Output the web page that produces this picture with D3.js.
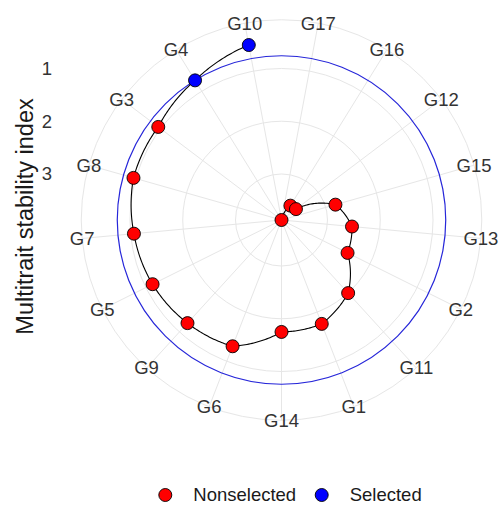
<!DOCTYPE html>
<html>
<head>
<meta charset="utf-8">
<script src="https://cdn.jsdelivr.net/npm/d3@7"></script>
<style>
  body { margin: 0; background: #fff; }
  text { font-family: "Liberation Sans", Arial, sans-serif; }
</style>
</head>
<body>
<svg id="chart" width="503" height="507"></svg>
<script>
// genotypes ordered by decreasing index (clockwise)
const genotypes = ["G17", "G16", "G12", "G15", "G13", "G2", "G11", "G1", "G14",
  "G6", "G9", "G5", "G7", "G8", "G3", "G4", "G10"];
const mtsi = [3.872, 3.552, 3.529, 2.809, 2.530, 2.473, 1.997, 1.760, 1.750,
  1.305, 1.227, 1.142, 1.063, 0.955, 0.945, 0.759, 0.498];
const status = ["Nonselected", "Nonselected", "Nonselected", "Nonselected", "Nonselected",
  "Nonselected", "Nonselected", "Nonselected", "Nonselected", "Nonselected", "Nonselected",
  "Nonselected", "Nonselected", "Nonselected", "Nonselected", "Selected", "Selected"];
const rTicks = [1, 2, 3];
const legendLabels = ["Nonselected", "Selected"];
const colors = {"Nonselected": "#ff0000", "Selected": "#0000ff"};

const svg = d3.select("#chart");
const cx = 281.5, cy = 220;
const n = genotypes.length;

// reversed radial scale: highest index at the centre
const r = d3.scaleLinear().domain([d3.max(mtsi), d3.min(mtsi)]).range([0, 178]);
const rOuter = r.range()[1] * 0.45 / 0.4;
const theta = d3.scaleLinear().domain([-0.5, n - 0.5]).range([0, 2 * Math.PI]);

const px = (a, rad) => cx + rad * Math.sin(a);
const py = (a, rad) => cy - rad * Math.cos(a);

const cutpoint = d3.max(mtsi.filter((v, i) => status[i] == "Selected"));

// grid
const grid = svg.append("g").attr("class", "grid")
  .attr("fill", "none").attr("stroke", "#e6e6e6").attr("stroke-width", 1);
grid.selectAll("line")
  .data(genotypes)
  .enter().append("line")
  .attr("x1", cx).attr("y1", cy)
  .attr("x2", (d, i) => px(theta(i), rOuter))
  .attr("y2", (d, i) => py(theta(i), rOuter));
grid.selectAll("circle")
  .data(rTicks.map(t => r(t)).concat([rOuter]))
  .enter().append("circle")
  .attr("cx", cx).attr("cy", cy)
  .attr("r", d => d);

// cut point
svg.append("circle")
  .attr("cx", cx).attr("cy", cy)
  .attr("r", r(cutpoint))
  .attr("fill", "none")
  .attr("stroke", "#2626d9")
  .attr("stroke-width", 1.2);

// path, drawn straight in (theta, r) space like ggplot does
let pts = [];
for (let i = 0; i < n - 1; i++) {
  for (let k = 0; k < 30; k++) {
    const t = k / 30;
    const a = theta(i + t);
    const rad = r(mtsi[i] + t * (mtsi[i + 1] - mtsi[i]));
    pts.push([px(a, rad), py(a, rad)]);
  }
}
pts.push([px(theta(n - 1), r(mtsi[n - 1])), py(theta(n - 1), r(mtsi[n - 1]))]);
svg.append("path")
  .attr("d", d3.line()(pts))
  .attr("fill", "none")
  .attr("stroke", "#000")
  .attr("stroke-width", 1.1);

// points
svg.append("g").selectAll("circle")
  .data(genotypes)
  .enter().append("circle")
  .attr("cx", (d, i) => px(theta(i), r(mtsi[i])))
  .attr("cy", (d, i) => py(theta(i), r(mtsi[i])))
  .attr("r", 6.5)
  .attr("fill", (d, i) => colors[status[i]])
  .attr("stroke", "#000")
  .attr("stroke-width", 0.9);

// genotype labels
svg.append("g").selectAll("text")
  .data(genotypes)
  .enter().append("text")
  .attr("x", (d, i) => px(theta(i), rOuter))
  .attr("y", (d, i) => py(theta(i), rOuter))
  .attr("dy", "0.35em")
  .attr("text-anchor", "middle")
  .style("font-size", "18.5px")
  .attr("fill", "#333")
  .text(d => d);

// radial tick labels
svg.append("g").selectAll("text")
  .data(rTicks)
  .enter().append("text")
  .attr("x", 52)
  .attr("y", d => cy - r(d))
  .attr("dy", "0.35em")
  .attr("text-anchor", "end")
  .style("font-size", "18.5px")
  .attr("fill", "#333")
  .text(d => d);

// axis title
svg.append("text")
  .attr("transform", "translate(33," + 216.5 + ") rotate(-90)")
  .attr("text-anchor", "middle")
  .style("font-size", "23.5px")
  .attr("fill", "#1a1a1a")
  .text("Multitrait stability index");

// legend
const legX = [165.3, 321.7];
const leg = svg.append("g").selectAll("g")
  .data(legendLabels)
  .enter().append("g")
  .attr("transform", (d, i) => "translate(" + legX[i] + ",495)");
leg.append("circle")
  .attr("r", 6.5)
  .attr("fill", d => colors[d])
  .attr("stroke", "#000")
  .attr("stroke-width", 0.9);
leg.append("text")
  .attr("x", 28)
  .attr("dy", "0.35em")
  .style("font-size", "18.5px")
  .attr("fill", "#1a1a1a")
  .text(d => d);
</script>
</body>
</html>
